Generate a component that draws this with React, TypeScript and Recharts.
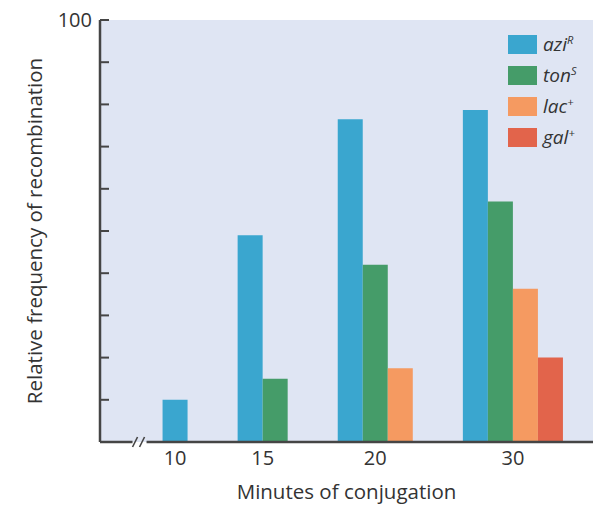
import React from 'react';
import {
  ComposedChart,
  Bar,
  Cell,
  XAxis,
  YAxis,
  CartesianGrid,
  ReferenceDot,
} from 'recharts';

// ---- data ----
const categories = ['10', '15', '20', '30'];
const aziR: (number | null)[] = [10, 49, 76.5, 78.7];
const tonS: (number | null)[] = [null, 15, 42, 57];
const lacPlus: (number | null)[] = [null, null, 17.5, 36.3];
const galPlus: (number | null)[] = [null, null, null, 20];
const yTicks = [0, 10, 20, 30, 40, 50, 60, 70, 80, 90, 100];

const seriesList = [
  { key: 'azi', name: 'azi', sup: 'R', color: '#3aa6cf', values: aziR },
  { key: 'ton', name: 'ton', sup: 'S', color: '#459c69', values: tonS },
  { key: 'lac', name: 'lac', sup: '+', color: '#f59a61', values: lacPlus },
  { key: 'gal', name: 'gal', sup: '+', color: '#e2644b', values: galPlus },
];

// one slot per drawn bar, groups separated by empty slots
const GAP = 2;
type Slot = { pos: number; value: number; series: string };
const slots: Slot[] = [];
const groupTicks: { pos: number; label: string }[] = [];
{
  let pos = 0;
  categories.forEach((cat, i) => {
    const start = pos;
    seriesList.forEach((s) => {
      const v = s.values[i];
      if (v != null) {
        slots.push({ pos, value: v, series: s.key });
        pos += 1;
      }
    });
    groupTicks.push({ pos: (start + pos - 1) / 2, label: cat });
    pos += GAP;
  });
}
const colorOf = (k: string) => seriesList.find((s) => s.key === k)!.color;
const X_DOMAIN: [number, number] = [-3, 16.7];

const FONT = '"Open Sans", "Noto Sans", sans-serif';
const TEXT = '#333';
const AXIS = '#454545';
const BG = '#dfe5f3';

const BreakMark = (props: any) => {
  const { cx, cy } = props;
  return (
    <g>
      <rect x={cx - 7} y={cy - 2} width={14} height={2} fill={BG} />
      <rect x={cx - 7} y={cy} width={14} height={3} fill="#fff" />
      <line x1={cx - 7} y1={cy + 5} x2={cx - 2} y2={cy - 5} stroke={AXIS} strokeWidth={1.6} />
      <line x1={cx} y1={cy + 5} x2={cx + 5} y2={cy - 5} stroke={AXIS} strokeWidth={1.6} />
    </g>
  );
};

const LegendBox = () => (
  <div
    style={{
      position: 'absolute',
      left: 508,
      top: 29,
      width: 86,
      fontFamily: FONT,
    }}
  >
    {seriesList.map((s) => (
      <div key={s.key} style={{ display: 'flex', alignItems: 'center', height: 31 }}>
        <div style={{ width: 29, height: 19, background: s.color, marginRight: 6 }} />
        <span style={{ fontStyle: 'italic', fontSize: 19, color: TEXT, lineHeight: '19px' }}>
          {s.name}
          <sup style={{ fontSize: 11, verticalAlign: 'super', lineHeight: 0 }}>{s.sup}</sup>
        </span>
      </div>
    ))}
  </div>
);

const YLabel = () => (
  <text
    x={42}
    y={231}
    transform="rotate(-90, 42, 231)"
    textAnchor="middle"
    fill={TEXT}
    fontFamily={FONT}
    fontSize={20.5}
  >
    Relative frequency of recombination
  </text>
);

export default function App() {
  return (
    <div style={{ position: 'absolute', left: 0, top: 0, width: 595, height: 506 }}>
      <ComposedChart
        width={595}
        height={506}
        data={slots}
        margin={{ top: 20, right: 2, left: 0, bottom: 0 }}
      >
        <CartesianGrid horizontal={false} vertical={false} fill={BG} />
        <XAxis
          xAxisId="top"
          orientation="top"
          type="number"
          domain={X_DOMAIN}
          allowDataOverflow
          height={0}
          tick={false}
          tickLine={false}
          axisLine={{ stroke: AXIS, strokeWidth: 2 }}
        />
        <YAxis
          yAxisId="right"
          orientation="right"
          type="number"
          domain={[0, 100]}
          width={0}
          tick={false}
          tickLine={false}
          axisLine={{ stroke: AXIS, strokeWidth: 2 }}
        />
        <XAxis
          dataKey="pos"
          type="number"
          domain={X_DOMAIN}
          allowDataOverflow
          ticks={groupTicks.map((g) => g.pos)}
          interval={0}
          tickFormatter={(v: number) => groupTicks.find((g) => g.pos === v)?.label ?? ''}
          tickLine={false}
          tickSize={0}
          tickMargin={9}
          height={64}
          axisLine={{ stroke: AXIS, strokeWidth: 2.5 }}
          tick={{ fill: TEXT, fontSize: 20, fontFamily: FONT }}
          label={{
            value: 'Minutes of conjugation',
            position: 'insideBottom',
            offset: 7,
            fill: TEXT,
            fontSize: 20.5,
            fontFamily: FONT,
          }}
        />
        <YAxis
          type="number"
          domain={[0, 100]}
          ticks={yTicks}
          interval={0}
          width={100}
          tickSize={-9}
          tickMargin={17}
          tickLine={{ stroke: AXIS, strokeWidth: 2 }}
          axisLine={{ stroke: AXIS, strokeWidth: 2.5 }}
          tick={{ fill: TEXT, fontSize: 20, fontFamily: FONT }}
          tickFormatter={(v: number) => (v === 100 ? '100' : '')}
          label={{ content: () => <YLabel /> }}
        />
        <Bar dataKey="value" barSize={25} isAnimationActive={false}>
          {slots.map((s, i) => (
            <Cell key={i} fill={colorOf(s.series)} />
          ))}
        </Bar>
        <ReferenceDot x={-1.42} y={0} shape={BreakMark} ifOverflow="visible" />
      </ComposedChart>
      <LegendBox />
    </div>
  );
}
